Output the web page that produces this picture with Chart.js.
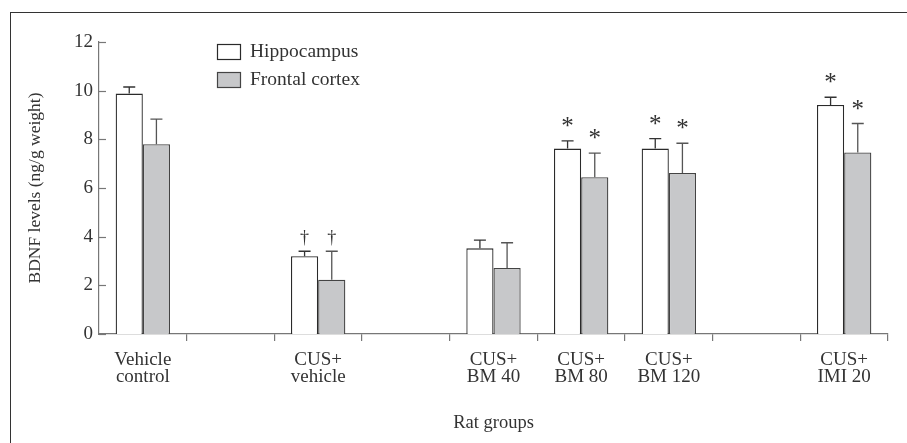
<!DOCTYPE html>
<html>
<head>
<meta charset="utf-8">
<script src="https://cdn.jsdelivr.net/npm/chart.js@4.4.1/dist/chart.umd.min.js"></script>
<style>
  html, body { margin: 0; padding: 0; background: #fff; }
  #wrap { position: relative; width: 907px; height: 443px; }
  #frame { position: absolute; left: 10px; top: 12px; right: 0; bottom: 0;
           border-left: 1px solid #333; border-top: 1px solid #333; pointer-events: none; }
</style>
</head>
<body>
<div id="wrap">
  <canvas id="chart" width="907" height="443"></canvas>
  <div id="frame"></div>
</div>
<script>
// Rat groups (empty slots are the gaps between groups on the axis)
const groups = [
  ['Vehicle', 'control'], '', ['CUS+', 'vehicle'], '',
  ['CUS+', 'BM 40'], ['CUS+', 'BM 80'], ['CUS+', 'BM 120'], '', ['CUS+', 'IMI 20']
];

// BDNF levels (ng/g weight)
const hippocampus = [9.88, null, 3.2, null, 3.52, 7.62, 7.62, null, 9.41];
const frontalCortex = [7.8, null, 2.23, null, 2.71, 6.44, 6.62, null, 7.46];

// upper error bars
const hippocampusErr = [0.27, null, 0.2, null, 0.34, 0.32, 0.41, null, 0.32];
const frontalCortexErr = [1.03, null, 1.17, null, 1.04, 0.99, 1.22, null, 1.19];

// significance marks above the bars
const hippocampusMarks = ['', '', '†', '', '', '*', '*', '', '*'];
const frontalCortexMarks = ['', '', '†', '', '', '*', '*', '', '*'];

const yTicks = [0, 2, 4, 6, 8, 10, 12];

const FONT = '"Liberation Serif", "Times New Roman", serif';
const AXIS = '#777';

// error bars, marks, inward y ticks and legend
const extras = {
  id: 'extras',
  afterDatasetsDraw(chart) {
    const ctx = chart.ctx;
    const y = chart.scales.y;
    const errs = [hippocampusErr, frontalCortexErr];
    const marks = [hippocampusMarks, frontalCortexMarks];
    const errColors = ['#333', '#555'];

    ctx.save();
    chart.data.datasets.forEach((ds, di) => {
      const meta = chart.getDatasetMeta(di);
      meta.data.forEach((bar, i) => {
        const v = ds.data[i];
        if (v == null) return;
        const top = y.getPixelForValue(v + errs[di][i]);
        ctx.strokeStyle = errColors[di];
        ctx.lineWidth = 1.3;
        ctx.beginPath();
        ctx.moveTo(bar.x, bar.y);
        ctx.lineTo(bar.x, top);
        ctx.moveTo(bar.x - 6, top);
        ctx.lineTo(bar.x + 6, top);
        ctx.stroke();

        const m = marks[di][i];
        if (m) {
          ctx.fillStyle = '#333';
          ctx.textAlign = 'center';
          ctx.textBaseline = 'alphabetic';
          if (m === '*') {
            ctx.font = '25px ' + FONT;
            ctx.fillText(m, bar.x, top - 7);
          } else {
            ctx.font = '18px ' + FONT;
            ctx.fillText(m, bar.x, top - 8);
          }
        }
      });
    });

    // y ticks pointing into the plot
    const left = chart.chartArea.left;
    ctx.strokeStyle = AXIS;
    ctx.lineWidth = 1.2;
    y.ticks.forEach(t => {
      const py = Math.round(y.getPixelForValue(t.value)) + 0.5;
      ctx.beginPath();
      ctx.moveTo(left, py);
      ctx.lineTo(left + 7, py);
      ctx.stroke();
    });

    // legend
    const lx = left + 118;
    const items = [
      { label: chart.data.datasets[0].label, fill: chart.data.datasets[0].backgroundColor, border: chart.data.datasets[0].borderColor, y: 44 },
      { label: chart.data.datasets[1].label, fill: chart.data.datasets[1].backgroundColor, border: chart.data.datasets[1].borderColor, y: 72 }
    ];
    items.forEach(it => {
      ctx.fillStyle = it.fill;
      ctx.fillRect(lx, it.y, 23, 15);
      ctx.strokeStyle = it.border;
      ctx.lineWidth = 1.2;
      ctx.strokeRect(lx + 0.5, it.y + 0.5, 23, 15);
      ctx.fillStyle = '#333';
      ctx.font = '19.5px ' + FONT;
      ctx.textAlign = 'left';
      ctx.textBaseline = 'middle';
      ctx.fillText(it.label, lx + 33, it.y + 7.5);
    });
    ctx.restore();
  }
};

new Chart(document.getElementById('chart'), {
  type: 'bar',
  data: {
    labels: groups,
    datasets: [
      {
        label: 'Hippocampus',
        data: hippocampus,
        backgroundColor: '#ffffff',
        borderColor: '#2a2a2a',
        borderWidth: 1.3,
        categoryPercentage: 0.62,
        barPercentage: 1.0
      },
      {
        label: 'Frontal cortex',
        data: frontalCortex,
        backgroundColor: '#c7c8ca',
        borderColor: '#444',
        borderWidth: 1.3,
        categoryPercentage: 0.62,
        barPercentage: 1.0
      }
    ]
  },
  options: {
    responsive: false,
    animation: false,
    layout: { padding: { left: 0, right: 19, top: 42, bottom: 0 } },
    plugins: {
      legend: { display: false },
      tooltip: { enabled: false }
    },
    scales: {
      x: {
        afterFit: s => { s.height = 109; },
        grid: {
          offset: true,
          drawOnChartArea: false,
          tickLength: 7,
          lineWidth: 1.2,
          color: c => (c.index === 0 ? 'rgba(0,0,0,0)' : AXIS)
        },
        border: { color: AXIS, width: 1.2 },
        ticks: {
          autoSkip: false,
          maxRotation: 0,
          padding: 10,
          color: '#333',
          font: { family: FONT, size: 19, lineHeight: 0.92 }
        },
        title: {
          display: true,
          text: 'Rat groups',
          color: '#333',
          font: { family: FONT, size: 18.5 },
          padding: { top: 0, bottom: 9 }
        }
      },
      y: {
        min: 0,
        max: 12,
        afterFit: s => { s.width = 99; },
        afterBuildTicks: s => { s.ticks = yTicks.map(v => ({ value: v })); },
        grid: { display: false, drawTicks: false },
        border: { color: AXIS, width: 1.2 },
        ticks: {
          padding: 6,
          color: '#333',
          font: { family: FONT, size: 19 }
        },
        title: {
          display: true,
          text: 'BDNF levels (ng/g weight)',
          color: '#333',
          font: { family: FONT, size: 17.5 },
          padding: { top: 25, bottom: 0 }
        }
      }
    }
  },
  plugins: [extras]
});
</script>
</body>
</html>
